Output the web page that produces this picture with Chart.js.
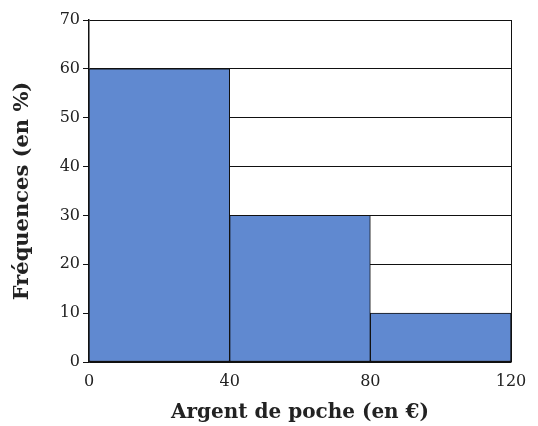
<!DOCTYPE html>
<html>
<head>
<meta charset="utf-8">
<script src="https://cdn.jsdelivr.net/npm/chart.js@4"></script>
<style>
  html, body { margin: 0; padding: 0; background: #fff; }
  #wrap { width: 538px; height: 426px; }
</style>
</head>
<body>
<div id="wrap"><canvas id="histo"></canvas></div>
<script>
// class edges (en €) and frequencies (en %)
var classEdges = [0, 40, 80, 120];
var frequences = [60, 30, 10];
var yTicks = [0, 10, 20, 30, 40, 50, 60, 70];

// one bar per class, placed at the class midpoint on a linear axis
var points = frequences.map(function (f, i) {
    return { x: (classEdges[i] + classEdges[i + 1]) / 2, y: f };
});

var serif = "'DejaVu Serif', serif";

new Chart(document.getElementById('histo').getContext('2d'), {
    type: 'bar',
    data: {
        datasets: [{
            data: points,
            backgroundColor: 'rgb(96, 137, 208)',
            borderColor: '#111',
            borderWidth: 1,
            borderSkipped: false,
            barPercentage: 1,
            categoryPercentage: 1
        }]
    },
    options: {
        responsive: true,
        maintainAspectRatio: false,
        animation: false,
        layout: { padding: { left: 0, right: 27, top: 20, bottom: 0 } },
        plugins: { legend: { display: false }, tooltip: { enabled: false } },
        scales: {
            x: {
                type: 'linear',
                offset: false,
                min: classEdges[0],
                max: classEdges[classEdges.length - 1],
                afterBuildTicks: function (axis) {
                    axis.ticks = classEdges.map(function (v) { return { value: v }; });
                },
                grid: {
                    offset: false,
                    drawTicks: false,
                    color: function (ctx) {
                        return ctx.tick && ctx.tick.value === 120 ? '#111' : 'rgba(0,0,0,0)';
                    }
                },
                border: { color: '#111', width: 1.5 },
                ticks: { color: '#222', padding: 10, font: { family: serif, size: 16 } },
                title: {
                    display: true,
                    text: 'Argent de poche (en €)',
                    color: '#222',
                    padding: { top: 0, bottom: 1 },
                    font: { family: serif, size: 20, weight: 'bold' }
                },
                afterFit: function (axis) { axis.height = 64; }
            },
            y: {
                min: 0,
                max: 70,
                afterBuildTicks: function (axis) {
                    axis.ticks = yTicks.map(function (v) { return { value: v }; });
                },
                grid: { color: '#111', lineWidth: 1, tickLength: 6 },
                border: { color: '#111', width: 1.5 },
                ticks: { color: '#222', padding: 3, font: { family: serif, size: 16 } },
                title: {
                    display: true,
                    text: 'Fréquences (en %)',
                    color: '#222',
                    padding: { top: 10, bottom: 0 },
                    font: { family: serif, size: 21, weight: 'bold' }
                },
                afterFit: function (axis) { axis.width = 89; }
            }
        }
    }
});
</script>
</body>
</html>
